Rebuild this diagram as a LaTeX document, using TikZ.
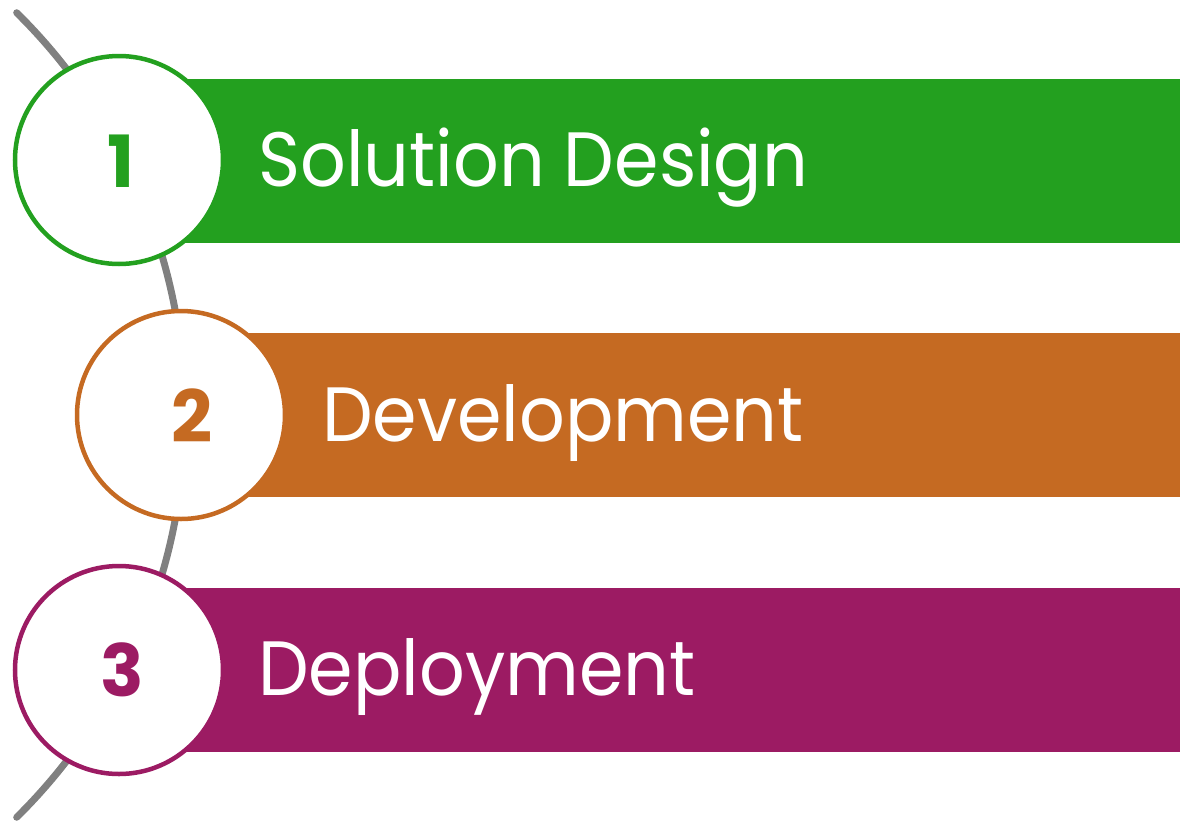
\documentclass[tikz,border=0pt]{standalone}
\usepackage{fontspec}
\setmainfont{Poppins}
\newfontfamily\labelfont[FakeStretch=0.93]{Poppins}
\definecolor{cgreen}{HTML}{23A01F}
\definecolor{corange}{HTML}{C56A22}
\definecolor{cpurple}{HTML}{9C1B63}
\definecolor{cgray}{HTML}{808080}
\tikzset{
  bar/.style={fill=#1, draw=none, anchor=north west, inner sep=0pt, minimum height=164pt},
  stepcircle/.style={circle, draw=#1, fill=white, line width=4.5pt, minimum size=208pt, inner sep=0pt},
  numtext/.style={text=#1, font=\fontsize{72}{72}\selectfont\bfseries, anchor=base, inner sep=0pt},
  labeltext/.style={text=white, font=\labelfont\fontsize{77}{77}\selectfont, anchor=base west, inner sep=0pt},
  arcline/.style={draw=cgray, line width=7pt, line cap=round}
}
\begin{document}
\begin{tikzpicture}[x=1pt,y=-1pt]
\useasboundingbox (0,0) rectangle (1180,822);
% timeline arc
\coordinate (arccenter) at (-380,415);
\draw[arcline] (arccenter) ++(-45.4:565) coordinate (arctop) arc[start angle=-45.4, end angle=45.4, radius=565] coordinate (arcbottom);
% bars
\node[bar=cgreen, minimum width=1060pt] (b1) at (120,79) {};
\node[bar=corange, minimum width=999pt] (b2) at (181,333) {};
\node[bar=cpurple, minimum width=1060pt] (b3) at (120,588) {};
% circles
\node[stepcircle=cgreen] (c1) at (119,160) {};
\node[stepcircle=corange] (c2) at (181,415) {};
\node[stepcircle=cpurple] (c3) at (119,670) {};
% numbers
\node[numtext=cgreen] (n1) at (121,187) {1};
\node[numtext=corange] (n2) at (192,442) {2};
\node[numtext=cpurple] (n3) at (122,696) {3};
% labels
\node[labeltext] (t1) at (258,186) {Solution Design};
\node[labeltext] (t2) at (322,441) {Development};
\node[labeltext] (t3) at (258,695) {Deployment};
\end{tikzpicture}
\end{document}
